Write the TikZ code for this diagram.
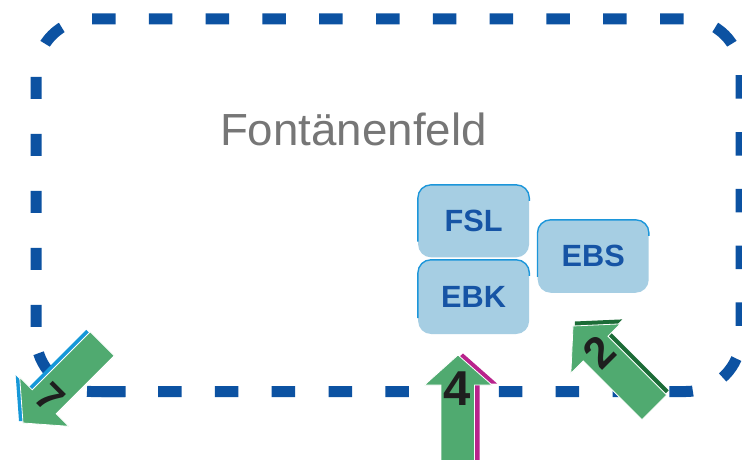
\documentclass[tikz,border=0pt]{standalone}
\usepackage{fontspec}
\usepackage{graphicx}
\setmainfont{Liberation Sans}
\usetikzlibrary{calc}
\definecolor{dashblue}{RGB}{12,82,162}
\definecolor{boxfill}{RGB}{166,206,227}
\definecolor{boxtext}{RGB}{22,84,165}
\definecolor{boxedge}{RGB}{28,150,218}
\definecolor{arrgreen}{RGB}{80,170,112}
\definecolor{sideseven}{RGB}{22,152,216}
\definecolor{sidefour}{RGB}{185,35,140}
\definecolor{sidetwo}{RGB}{28,108,55}
\definecolor{labelgray}{RGB}{118,118,118}
\definecolor{digitcol}{RGB}{30,30,30}
\begin{document}
\begin{tikzpicture}[x=1pt,y=-1pt,
  frame/.style={draw=dashblue,line width=11pt,rounded corners=55pt},
  box/.style={fill=boxfill,rounded corners=13pt,minimum width=111pt,inner sep=0pt,text=boxtext,font=\fontsize{30.7}{30.7}\selectfont\bfseries},
  hl/.style={draw=boxedge,line width=1.4pt,rounded corners=13pt},
  arrowbody/.style={fill=arrgreen,draw=white,line width=0.8pt,line join=miter},
  digitlabel/.style={text=digitcol,inner sep=0pt}
]
\useasboundingbox[fill=white] (0,0) rectangle (742,460);

% dashed frame
\draw[frame, dash pattern=on 23.5pt off 33.3pt, dash phase=55.8pt]
  (91,19) -- (741,19) -- (741,391.5) -- (91,391.5);
\draw[frame, dash pattern=on 38.6pt off 41.9pt on 23.5pt off 26.5pt on 22pt off 35pt on 22pt off 35pt on 22pt off 35pt on 22pt off 35pt on 22pt off 35pt on 23.5pt off 40pt]
  (125.6,391.5) -- (36,391.5) -- (36,19) -- (91,19);

% title
\node[text=labelgray, font=\fontsize{45}{45}\selectfont, anchor=base, inner sep=0pt] (title) at (353.4,145) {\scalebox{1.015}[1]{Fontänenfeld}};

% boxes
\node[box, minimum height=72.3pt] (fsl) at (473.6,221.2) {FSL};
\node[box, minimum height=74pt] (ebk) at (473.6,297) {EBK};
\node[box, minimum height=72.7pt] (ebs) at (593.2,256.4) {EBS};
\foreach \b in {fsl,ebk,ebs}{
  \draw[hl] ([yshift=16pt]\b.south west) -- (\b.north west) -- (\b.north east) -- ([yshift=-16pt]\b.north east);
}

% arrow 4 (up)
\fill[sidefour, shift={(5,-1.5)}] (458,355) -- (492,385) -- (474.5,385) -- (474.5,475) -- (441,475) -- (441,385) -- (424.5,385) -- cycle;
\draw[arrowbody] (458,355) -- (492,385) -- (474.5,385) -- (474.5,475) -- (441,475) -- (441,385) -- (424.5,385) -- cycle;
\node[digitlabel, font=\fontsize{49}{49}\selectfont\bfseries] (n4) at (457.5,389) {4};

% arrow 2 (up-left)
\fill[sidetwo, shift={(2,-4.5)}] (573,326) -- (620.3,323.9) -- (608,336.2) -- (666.7,394.9) -- (641.9,419.7) -- (583.2,361) -- (570.9,373.3) -- cycle;
\draw[arrowbody] (573,326) -- (620.3,323.9) -- (608,336.2) -- (666.7,394.9) -- (641.9,419.7) -- (583.2,361) -- (570.9,373.3) -- cycle;
\node[digitlabel, rotate=45, font=\fontsize{44}{44}\selectfont\bfseries] (n2) at (599,352) {2};

% arrow 7 (down-left)
\fill[sideseven, shift={(-4,-2)}] (23,423) -- (68.7,426.3) -- (56.2,413.8) -- (114.2,355.8) -- (90.2,331.8) -- (32.2,389.8) -- (19.7,377.3) -- cycle;
\draw[arrowbody] (23,423) -- (68.7,426.3) -- (56.2,413.8) -- (114.2,355.8) -- (90.2,331.8) -- (32.2,389.8) -- (19.7,377.3) -- cycle;
\node[digitlabel, rotate=-45, font=\fontsize{40}{40}\selectfont\bfseries] (n7) at (50.5,398) {7};
\end{tikzpicture}
\end{document}
